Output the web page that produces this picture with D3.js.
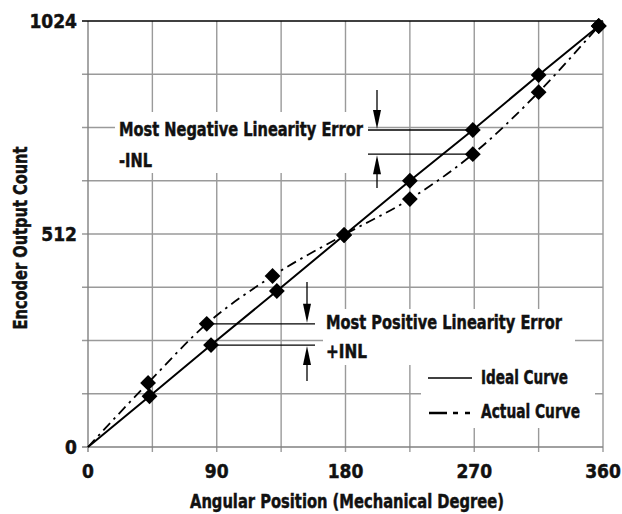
<!DOCTYPE html>
<html>
<head>
<meta charset="utf-8">
<script src="https://cdn.jsdelivr.net/npm/d3@7"></script>
<style>
  body { margin: 0; background: #fff; }
  text { font-family: "Liberation Sans Narrow", "DejaVu Sans Condensed", "Arial Narrow", sans-serif; font-weight: bold; fill: #111; stroke: #111; stroke-width: 0.45px; }
</style>
</head>
<body>
<div id="chart"></div>
<script>
// readings
const xTicks = [0, 90, 180, 270, 360];
const yTicks = [0, 512, 1024];
const idealX = [0, 43, 86, 132, 179, 225, 269, 315, 357];
const idealY = [0, 122, 245, 375, 509, 640, 762, 894, 1012];
const actualX = [0, 42, 83, 129, 179, 225, 269, 315, 357];
const actualY = [0, 154, 296, 411, 510, 596, 704, 853, 1012];
const xTitle = "Angular Position (Mechanical Degree)";
const yTitle = "Encoder Output Count";

const width = 622, height = 514;
const margin = { top: 21, right: 19, bottom: 67, left: 88 };

const svg = d3.select('#chart')
  .append('svg')
  .attr('width', width)
  .attr('height', height);

const x = d3.scaleLinear()
  .domain([0, 360])
  .range([margin.left, width - margin.right]);

const y = d3.scaleLinear()
  .domain([0, 1024])
  .range([height - margin.bottom, margin.top]);

const grid = svg.append('g')
  .attr('stroke', '#9a9a9a')
  .attr('stroke-width', 1.4);

grid.selectAll('line.v')
  .data(d3.range(45, 361, 45))
  .join('line')
    .attr('class', 'v')
    .attr('x1', d => x(d)).attr('x2', d => x(d))
    .attr('y1', y(1024)).attr('y2', y(0) + 5);

grid.selectAll('line.h')
  .data(d3.range(128, 1024, 128))
  .join('line')
    .attr('class', 'h')
    .attr('x1', x(0) - 6).attr('x2', x(360))
    .attr('y1', d => y(d)).attr('y2', d => y(d));

// frame
svg.append('line')
  .attr('x1', x(0)).attr('x2', x(0))
  .attr('y1', y(1024)).attr('y2', y(0) + 5)
  .attr('stroke', '#808080').attr('stroke-width', 1.4);
svg.append('line')
  .attr('x1', x(0) - 6).attr('x2', x(360))
  .attr('y1', y(0)).attr('y2', y(0))
  .attr('stroke', '#808080').attr('stroke-width', 1.4);
svg.append('line')
  .attr('x1', x(0) - 6).attr('x2', x(360))
  .attr('y1', y(1024)).attr('y2', y(1024))
  .attr('stroke', '#000').attr('stroke-width', 1.5);

// tick labels
svg.append('g')
  .selectAll('text')
  .data(yTicks)
  .join('text')
    .attr('x', x(0) - 11)
    .attr('y', d => y(d))
    .attr('dy', '0.36em')
    .attr('text-anchor', 'end')
    .style('font-size', '19px')
    .text(d => d);

svg.append('g')
  .selectAll('text')
  .data(xTicks)
  .join('text')
    .attr('x', d => x(d))
    .attr('y', 478)
    .attr('text-anchor', 'middle')
    .style('font-size', '19px')
    .text(d => d);

svg.append('text')
  .attr('x', 347)
  .attr('y', 508)
  .attr('text-anchor', 'middle')
  .attr('textLength', 314)
  .attr('lengthAdjust', 'spacingAndGlyphs')
  .style('font-size', '19px')
  .text(xTitle);

svg.append('text')
  .attr('transform', 'translate(27,238) rotate(-90)')
  .attr('text-anchor', 'middle')
  .attr('textLength', 183)
  .attr('lengthAdjust', 'spacingAndGlyphs')
  .style('font-size', '19px')
  .text(yTitle);

// white panels behind the notes
const boxes = [[115, 112, 253, 61], [323, 309, 252, 56], [421, 365, 174, 63]];
svg.append('g')
  .selectAll('rect')
  .data(boxes)
  .join('rect')
    .attr('x', d => d[0]).attr('y', d => d[1])
    .attr('width', d => d[2]).attr('height', d => d[3])
    .attr('fill', '#fff');

// curves
const ideal = idealX.map((v, i) => [v, idealY[i]]);
const actual = actualX.map((v, i) => [v, actualY[i]]);

const line = d3.line()
  .x(d => x(d[0]))
  .y(d => y(d[1]));

svg.append('path')
  .datum(actual)
  .attr('d', line.curve(d3.curveMonotoneX))
  .attr('fill', 'none')
  .attr('stroke', '#000')
  .attr('stroke-width', 1.8)
  .attr('stroke-dasharray', '10,5,2.5,5');

svg.append('path')
  .datum(ideal)
  .attr('d', line.curve(d3.curveLinear))
  .attr('fill', 'none')
  .attr('stroke', '#000')
  .attr('stroke-width', 2);

const diamond = d3.symbol().type(d3.symbolSquare).size(125);
svg.append('g')
  .selectAll('path')
  .data(ideal.slice(1).concat(actual.slice(1)))
  .join('path')
    .attr('d', diamond)
    .attr('transform', d => `translate(${x(d[0])},${y(d[1])}) rotate(45)`)
    .attr('fill', '#000');

// annotation leaders and arrows
const lead = svg.append('g').attr('stroke', '#000').attr('stroke-width', 1.3);
const negI = ideal[6], negA = actual[6];
const posI = ideal[2], posA = actual[2];
lead.append('line')
  .attr('x1', 368).attr('x2', x(negI[0]))
  .attr('y1', y(negI[1])).attr('y2', y(negI[1]));
lead.append('line')
  .attr('x1', 368).attr('x2', x(negA[0]))
  .attr('y1', y(negA[1])).attr('y2', y(negA[1]));
lead.append('line')
  .attr('x1', x(posA[0])).attr('x2', 315)
  .attr('y1', y(posA[1])).attr('y2', y(posA[1]));
lead.append('line')
  .attr('x1', x(posI[0])).attr('x2', 315)
  .attr('y1', y(posI[1])).attr('y2', y(posI[1]));

function arrow(ax, from, tip) {
  const dir = tip > from ? 1 : -1;
  lead.append('line')
    .attr('x1', ax).attr('x2', ax)
    .attr('y1', from).attr('y2', tip - dir * 10);
  svg.append('path')
    .attr('d', `M${ax},${tip} L${ax - 4},${tip - dir * 19} L${ax + 4},${tip - dir * 19} Z`)
    .attr('fill', '#000');
}
arrow(377, 90, y(negI[1]) - 1);
arrow(377, 188, y(negA[1]) + 1);
arrow(307, 282, y(posA[1]) - 1);
arrow(307, 381, y(posI[1]) + 1);

// notes (w = width measured on the picture)
const notes = [
  { t: "Most Negative Linearity Error", x: 119, y: 136, w: 244 },
  { t: "-INL", x: 119, y: 167, w: 33 },
  { t: "Most Positive Linearity Error", x: 326, y: 329, w: 236 },
  { t: "+INL", x: 326, y: 358, w: 41 },
  { t: "Ideal Curve", x: 481, y: 384, w: 87 },
  { t: "Actual Curve", x: 481, y: 418, w: 99 }
];
svg.append('g')
  .selectAll('text')
  .data(notes)
  .join('text')
    .attr('x', d => d.x)
    .attr('y', d => d.y)
    .attr('textLength', d => d.w)
    .attr('lengthAdjust', 'spacingAndGlyphs')
    .style('font-size', '19px')
    .text(d => d.t);

// legend swatches
svg.append('line')
  .attr('x1', 428).attr('x2', 472).attr('y1', 378).attr('y2', 378)
  .attr('stroke', '#000').attr('stroke-width', 1.6);
svg.append('line')
  .attr('x1', 429).attr('x2', 471).attr('y1', 413).attr('y2', 413)
  .attr('stroke', '#000').attr('stroke-width', 2.4)
  .attr('stroke-dasharray', '18,6,5,7,5');
</script>
</body>
</html>
